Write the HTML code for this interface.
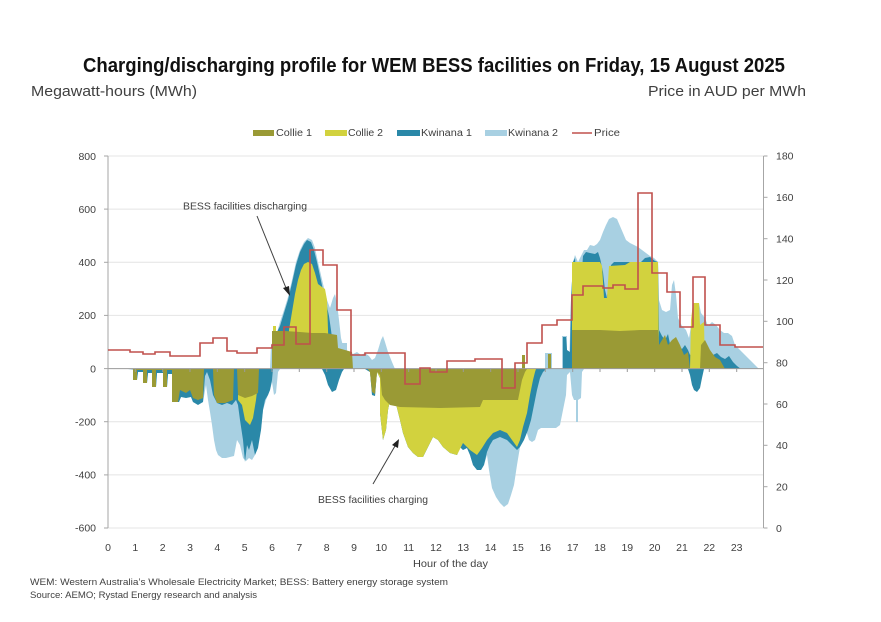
<!DOCTYPE html>
<html>
<head>
<meta charset="utf-8">
<style>
  html,body{margin:0;padding:0;background:#fff;}
  svg{display:block;}
  text{font-family:"Liberation Sans",Arial,sans-serif;fill:#404040;}
</style>
</head>
<body>
<svg width="881" height="622" viewBox="0 0 881 622" xmlns="http://www.w3.org/2000/svg">
  <rect width="881" height="622" fill="#fff"/>

  <!-- Title -->
  <text x="83" y="72" font-size="20" font-weight="bold" fill="#111" style="fill:#111" textLength="702" lengthAdjust="spacingAndGlyphs">Charging/discharging profile for WEM BESS facilities on Friday, 15 August 2025</text>
  <text x="31" y="96" font-size="14.5" textLength="166" lengthAdjust="spacingAndGlyphs">Megawatt-hours (MWh)</text>
  <text x="648" y="96" font-size="14.5" textLength="158" lengthAdjust="spacingAndGlyphs">Price in AUD per MWh</text>

  <!-- Legend -->
  <rect x="253" y="130" width="21" height="6" fill="#9a9a35"/>
  <text x="276" y="136" font-size="10" textLength="36" lengthAdjust="spacingAndGlyphs">Collie 1</text>
  <rect x="325" y="130" width="22" height="6" fill="#d2d23e"/>
  <text x="348" y="136" font-size="10" textLength="35" lengthAdjust="spacingAndGlyphs">Collie 2</text>
  <rect x="397" y="130" width="23" height="6" fill="#2a88a8"/>
  <text x="421" y="136" font-size="10" textLength="51" lengthAdjust="spacingAndGlyphs">Kwinana 1</text>
  <rect x="485" y="130" width="22" height="6" fill="#a8d0e2"/>
  <text x="508" y="136" font-size="10" textLength="50" lengthAdjust="spacingAndGlyphs">Kwinana 2</text>
  <line x1="572" y1="133" x2="592" y2="133" stroke="#c0504d" stroke-width="1.5"/>
  <text x="594" y="136" font-size="10" textLength="26" lengthAdjust="spacingAndGlyphs">Price</text>

  <!-- Gridlines -->
  <g stroke="#e4e4e4" stroke-width="1">
    <line x1="108" y1="156" x2="763" y2="156"/>
    <line x1="108" y1="209.1" x2="763" y2="209.1"/>
    <line x1="108" y1="262.3" x2="763" y2="262.3"/>
    <line x1="108" y1="315.4" x2="763" y2="315.4"/>
    <line x1="108" y1="421.7" x2="763" y2="421.7"/>
    <line x1="108" y1="474.9" x2="763" y2="474.9"/>
    <line x1="108" y1="528" x2="763" y2="528"/>
  </g>

  <!-- Kwinana 2 (light blue, total envelope) -->
  <g fill="#a8d0e2">
    <path d="M270,369 L271,345 L276,336 L280,322 L284,310 L288,297 L292,280 L296,262 L300,250 L304,242 L308,238 L312,240 L315,248 L318,262 L321,275 L324,288 L327,300 L330,308 L333,298 L335,294 L337,303 L339,320 L341,338 L343,346 L346,350 L349,352 L353,354 L357,352 L361,355 L365,353 L369,356 L372,360 L375,358 L378,350 L381,340 L383,336 L385,342 L388,352 L392,362 L395,369 Z"/>
    <path d="M340,369 L340,343 L347,343 L347,369 Z"/>
    <path d="M545,369 L545,353 L552,353 L552,369 Z"/>
    <path d="M562,369 L562,336 L567,336 L567,369 Z"/>
    <path d="M569,369 L571,300 L573,262 L575,255 L578,262 L581,256 L584,250 L587,250 L590,245 L594,246 L597,244 L600,240 L603,232 L606,225 L609,219 L613,217 L617,219 L620,226 L623,233 L626,240 L630,243 L634,245 L638,247 L642,250 L646,253 L650,256 L654,258 L658,262 L659,300 L662,310 L666,312 L670,310 L672,285 L674,280 L676,295 L678,318 L682,326 L686,330 L689,338 L692,320 L695,303 L699,303 L701,313 L705,318 L708,326 L712,322 L716,325 L720,330 L724,333 L728,333 L732,336 L735,345 L740,350 L745,355 L750,360 L754,364 L758,368 L760,369 Z"/>
    <path d="M128,369 L133,370 L133,380 L137,380 L138,372 L143,372 L143,383 L147,383 L148,373 L152,373 L152,387 L156,387 L157,373 L163,373 L163,387 L167,387 L168,374 L172,374 L172,402 L179,402 L181,397 L186,395 L191,397 L193,402 L198,404 L203,402 L206,385 L208,400 L210,412 L212,425 L214,440 L216,450 L218,455 L222,458 L226,458 L230,457 L234,456 L237,440 L240,445 L243,458 L246,461 L249,458 L252,460 L255,455 L258,440 L261,430 L263,410 L266,400 L268,395 L270,390 L272,382 L274,395 L276,393 L278,372 L280,369 Z"/>
    <path d="M365,369 L370,372 L372,395 L375,396 L377,372 L380,378 L380,413 L383,440 L386,430 L388,410 L390,400 L395,400 L400,420 L403,433 L408,447 L413,453 L418,457 L423,457 L428,447 L433,437 L438,440 L443,447 L450,453 L457,455 L460,447 L463,450 L467,448 L470,455 L473,465 L477,470 L481,470 L484,465 L487,455 L489,470 L492,488 L496,497 L500,503 L504,507 L508,504 L511,495 L514,485 L517,465 L520,447 L523,425 L526,430 L529,440 L532,442 L535,440 L538,430 L541,428 L545,428 L549,428 L553,428 L556,428 L560,425 L562,415 L564,405 L566,395 L567,375 L570,372 L572,395 L574,400 L576,400 L576,422 L578,422 L578,400 L581,398 L582,372 L584,369 Z"/>
  </g>

  <!-- Kwinana 1 (teal) -->
  <g fill="#2a88a8">
    <path d="M272,369 L272,338 L276,334 L280,326 L284,313 L288,300 L292,283 L296,265 L300,252 L304,244 L307,240 L311,242 L314,250 L317,262 L320,276 L323,290 L326,302 L329,316 L331,330 L333,345 L335,360 L337,369 Z"/>
    <path d="M563,369 L563,337 L566,337 L567,350 L570,352 L571,300 L573,262 L575,258 L577,290 L580,298 L583,256 L586,252 L590,253 L595,254 L598,252 L600,258 L603,272 L605,290 L607,298 L609,280 L611,265 L614,262 L630,262 L640,263 L645,258 L650,257 L655,261 L658,262 L659,330 L662,336 L665,340 L668,334 L670,344 L673,348 L676,340 L679,346 L682,349 L685,345 L688,350 L690,355 L693,352 L697,354 L701,357 L705,355 L709,357 L713,355 L717,353 L721,357 L725,359 L729,356 L733,362 L737,366 L741,369 Z"/>
    <path d="M133,369 L133,380 L137,380 L138,372 L143,372 L143,383 L147,383 L148,373 L152,373 L152,387 L156,387 L157,373 L163,373 L163,387 L167,387 L168,374 L172,374 L172,402 L179,402 L181,397 L186,398 L191,397 L193,402 L198,405 L203,402 L205,376 L207,372 L210,380 L213,395 L217,403 L222,405 L227,403 L232,405 L236,400 L238,405 L240,420 L243,440 L245,462 L247,445 L249,450 L252,440 L255,455 L258,448 L261,430 L263,410 L265,400 L268,395 L270,390 L272,380 L273,369 Z"/>
    <path d="M322,369 L325,375 L328,385 L332,392 L336,390 L339,380 L342,372 L344,369 Z"/>
    <path d="M365,369 L370,372 L372,395 L375,396 L377,372 L380,378 L380,413 L383,440 L386,430 L388,410 L390,400 L395,400 L400,420 L403,433 L408,447 L413,453 L418,457 L423,457 L428,447 L433,437 L438,440 L443,447 L450,453 L457,455 L460,447 L463,450 L467,448 L470,455 L473,465 L477,470 L481,470 L484,465 L487,452 L490,445 L493,440 L500,437 L507,440 L512,445 L517,450 L520,447 L524,440 L528,430 L531,420 L534,405 L537,390 L540,378 L543,372 L546,369 Z"/>
    <path d="M688,369 L690,375 L692,385 L694,390 L697,392 L700,388 L702,378 L704,369 Z"/>
  </g>

  <!-- Collie 2 (yellow) -->
  <g fill="#d2d23e">
    <path d="M289,369 L289,330 L292,312 L295,294 L298,280 L301,270 L304,264 L308,262 L312,264 L315,273 L318,284 L322,287 L325,289 L327,300 L328,330 L329,369 Z"/>
    <path d="M273,369 L273,326 L276,326 L276,369 Z"/>
    <path d="M572,369 L572,262 L600,262 L602,266 L604,298 L607,298 L609,266 L625,265 L630,262 L658,262 L659,369 Z"/>
    <path d="M690,369 L691,320 L693,303 L699,303 L700,325 L704,322 L705,369 Z"/>
    <path d="M238,369 L238,400 L242,405 L245,420 L250,425 L253,418 L256,400 L258,382 L258,369 Z"/>
    <path d="M368,369 L370,372 L372,390 L375,392 L377,372 L380,378 L380,413 L383,440 L386,430 L388,410 L390,400 L395,400 L400,420 L403,433 L408,447 L413,453 L418,457 L423,457 L428,447 L433,437 L438,440 L443,447 L450,453 L457,455 L463,443 L470,450 L477,455 L482,448 L487,440 L493,433 L500,430 L507,433 L512,440 L517,447 L520,440 L523,427 L527,413 L530,395 L533,380 L535,372 L536,369 Z"/>
  </g>

  <!-- Collie 1 (olive) -->
  <g fill="#9a9a35">
    <path d="M272,369 L272,331 L285,331 L300,332 L312,333 L325,333 L337,335 L338,348 L345,350 L352,352 L353,369 Z"/>
    <path d="M572,369 L572,330 L600,330 L620,331 L640,330 L658,330 L659,345 L662,340 L665,335 L668,345 L672,340 L676,337 L680,345 L684,355 L688,352 L690,369 Z"/>
    <path d="M700,369 L701,345 L705,340 L710,350 L715,357 L720,360 L725,369 Z"/>
    <path d="M522,369 L522,355 L525,355 L525,369 Z"/>
    <path d="M548,369 L548,354 L551,354 L551,369 Z"/>
    <path d="M130,369 L133,369 L133,380 L137,380 L137,370 L143,370 L143,383 L147,383 L147,370 L152,370 L152,387 L156,387 L156,370 L163,370 L163,387 L167,387 L167,370 L172,370 L172,402 L178,402 L180,390 L186,393 L190,390 L193,398 L198,400 L203,398 L204,369 Z"/>
    <path d="M213,369 L214,395 L217,403 L225,403 L233,400 L234,369 Z"/>
    <path d="M237,369 L238,395 L245,398 L252,396 L258,393 L259,369 Z"/>
    <path d="M368,369 L370,372 L372,392 L375,394 L377,372 L380,375 L382,395 L385,400 L390,405 L400,407 L440,408 L480,407 L483,400 L518,400 L520,390 L522,380 L525,372 L527,369 Z"/>
  </g>

  <!-- Axes -->
  <line x1="108" y1="368.6" x2="763" y2="368.6" stroke="#9a9a9a" stroke-width="1"/>
  <g stroke="#9a9a9a" stroke-width="1">
    <line x1="135.3" y1="368.6" x2="135.3" y2="372"/>
    <line x1="162.7" y1="368.6" x2="162.7" y2="372"/>
    <line x1="190" y1="368.6" x2="190" y2="372"/>
    <line x1="217.3" y1="368.6" x2="217.3" y2="372"/>
    <line x1="244.7" y1="368.6" x2="244.7" y2="372"/>
    <line x1="272" y1="368.6" x2="272" y2="372"/>
    <line x1="299.3" y1="368.6" x2="299.3" y2="372"/>
    <line x1="326.7" y1="368.6" x2="326.7" y2="372"/>
    <line x1="354" y1="368.6" x2="354" y2="372"/>
    <line x1="381.3" y1="368.6" x2="381.3" y2="372"/>
    <line x1="408.7" y1="368.6" x2="408.7" y2="372"/>
    <line x1="436" y1="368.6" x2="436" y2="372"/>
    <line x1="463.3" y1="368.6" x2="463.3" y2="372"/>
    <line x1="490.7" y1="368.6" x2="490.7" y2="372"/>
    <line x1="518" y1="368.6" x2="518" y2="372"/>
    <line x1="545.3" y1="368.6" x2="545.3" y2="372"/>
    <line x1="572.7" y1="368.6" x2="572.7" y2="372"/>
    <line x1="600" y1="368.6" x2="600" y2="372"/>
    <line x1="627.3" y1="368.6" x2="627.3" y2="372"/>
    <line x1="654.7" y1="368.6" x2="654.7" y2="372"/>
    <line x1="682" y1="368.6" x2="682" y2="372"/>
    <line x1="709.3" y1="368.6" x2="709.3" y2="372"/>
    <line x1="736.7" y1="368.6" x2="736.7" y2="372"/>
  </g>
  <g stroke="#a6a6a6" stroke-width="1">
    <line x1="108" y1="156" x2="108" y2="528"/>
    <line x1="104" y1="156" x2="108" y2="156"/>
    <line x1="104" y1="209.1" x2="108" y2="209.1"/>
    <line x1="104" y1="262.3" x2="108" y2="262.3"/>
    <line x1="104" y1="315.4" x2="108" y2="315.4"/>
    <line x1="104" y1="368.6" x2="108" y2="368.6"/>
    <line x1="104" y1="421.7" x2="108" y2="421.7"/>
    <line x1="104" y1="474.9" x2="108" y2="474.9"/>
    <line x1="104" y1="528" x2="108" y2="528"/>
    <line x1="763.5" y1="156" x2="763.5" y2="528"/>
    <line x1="763.5" y1="156" x2="767.5" y2="156"/>
    <line x1="763.5" y1="197.3" x2="767.5" y2="197.3"/>
    <line x1="763.5" y1="238.7" x2="767.5" y2="238.7"/>
    <line x1="763.5" y1="280" x2="767.5" y2="280"/>
    <line x1="763.5" y1="321.3" x2="767.5" y2="321.3"/>
    <line x1="763.5" y1="362.7" x2="767.5" y2="362.7"/>
    <line x1="763.5" y1="404" x2="767.5" y2="404"/>
    <line x1="763.5" y1="445.3" x2="767.5" y2="445.3"/>
    <line x1="763.5" y1="486.7" x2="767.5" y2="486.7"/>
    <line x1="763.5" y1="528" x2="767.5" y2="528"/>
  </g>

  <!-- Price line -->
  <polyline fill="none" stroke="#c0504d" stroke-width="1.6" stroke-linejoin="miter"
    points="108,350 130,350 130,352 143,352 143,354 155,354 155,352 170,352 170,356 200,356 200,343 213,343 213,338 227,338 227,351 237,351 237,353 257,353 257,348 272,348 272,345 284,345 284,327 296,327 296,344 310,344 310,250 323,250 323,265 337,265 337,310 351,310 351,355 365,355 365,353 405,353 405,384 420,384 420,368 430,368 430,372 447,372 447,361 475,361 475,359 502,359 502,388 515,388 515,363 527,363 527,343 542,343 542,325 557,325 557,320 572,320 572,295 583,295 583,286 603,286 603,288 613,288 613,285 625,285 625,289 638,289 638,193 652,193 652,273 667,273 667,292 680,292 680,327 693,327 693,277 705,277 705,325 720,325 720,345 735,345 735,347 763,347"/>

  <!-- Left axis labels -->
  <g font-size="10.5" text-anchor="end">
    <text x="96" y="160">800</text>
    <text x="96" y="213">600</text>
    <text x="96" y="266">400</text>
    <text x="96" y="319">200</text>
    <text x="96" y="372.5">0</text>
    <text x="96" y="425.5">-200</text>
    <text x="96" y="478.5">-400</text>
    <text x="96" y="531.5">-600</text>
  </g>
  <!-- Right axis labels -->
  <g font-size="10.5">
    <text x="776" y="159.5">180</text>
    <text x="776" y="201">160</text>
    <text x="776" y="242.5">140</text>
    <text x="776" y="284">120</text>
    <text x="776" y="325">100</text>
    <text x="776" y="366.5">80</text>
    <text x="776" y="408">60</text>
    <text x="776" y="449">40</text>
    <text x="776" y="490.5">20</text>
    <text x="776" y="532">0</text>
  </g>
  <!-- X labels -->
  <g font-size="10.5" text-anchor="middle">
    <text x="108" y="551">0</text>
    <text x="135.3" y="551">1</text>
    <text x="162.7" y="551">2</text>
    <text x="190" y="551">3</text>
    <text x="217.3" y="551">4</text>
    <text x="244.7" y="551">5</text>
    <text x="272" y="551">6</text>
    <text x="299.3" y="551">7</text>
    <text x="326.7" y="551">8</text>
    <text x="354" y="551">9</text>
    <text x="381.3" y="551">10</text>
    <text x="408.7" y="551">11</text>
    <text x="436" y="551">12</text>
    <text x="463.3" y="551">13</text>
    <text x="490.7" y="551">14</text>
    <text x="518" y="551">15</text>
    <text x="545.3" y="551">16</text>
    <text x="572.7" y="551">17</text>
    <text x="600" y="551">18</text>
    <text x="627.3" y="551">19</text>
    <text x="654.7" y="551">20</text>
    <text x="682" y="551">21</text>
    <text x="709.3" y="551">22</text>
    <text x="736.7" y="551">23</text>
  </g>
  <text x="413" y="567" font-size="10.5" textLength="75" lengthAdjust="spacingAndGlyphs">Hour of the day</text>

  <!-- Annotations -->
  <text x="183" y="209.5" font-size="10.5" textLength="124" lengthAdjust="spacingAndGlyphs">BESS facilities discharging</text>
  <line x1="257" y1="216" x2="286" y2="288" stroke="#404040" stroke-width="1"/>
  <polygon points="290,296 283,288 289,286" fill="#222"/>
  <text x="318" y="503" font-size="10.5" textLength="110" lengthAdjust="spacingAndGlyphs">BESS facilities charging</text>
  <line x1="373" y1="484" x2="395" y2="446" stroke="#404040" stroke-width="1"/>
  <polygon points="399,439 398,448 392,445" fill="#222"/>

  <!-- Footnotes -->
  <text x="30" y="585" font-size="9.5" textLength="418" lengthAdjust="spacingAndGlyphs">WEM: Western Australia’s Wholesale Electricity Market; BESS: Battery energy storage system</text>
  <text x="30" y="598" font-size="9.5" textLength="227" lengthAdjust="spacingAndGlyphs">Source: AEMO; Rystad Energy research and analysis</text>
</svg>
</body>
</html>
